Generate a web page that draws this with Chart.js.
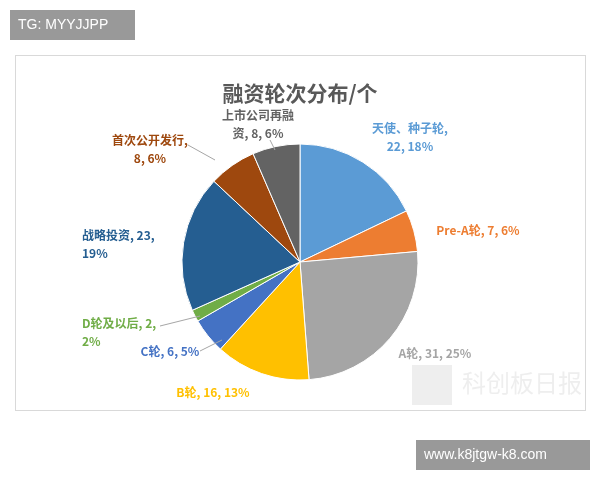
<!DOCTYPE html>
<html>
<head>
<meta charset="utf-8">
<script src="https://cdn.jsdelivr.net/npm/chart.js@4"></script>
<style>
  body { margin: 0; background: #fff; }
  #wrap { position: relative; width: 600px; height: 480px; }
</style>
</head>
<body>
<div id="wrap"><canvas id="pieChart" width="600" height="480"></canvas></div>
<script>
// 数据
const categories = ['天使、种子轮', 'Pre-A轮', 'A轮', 'B轮', 'C轮', 'D轮及以后', '战略投资', '首次公开发行', '上市公司再融资'];
const counts = [22, 7, 31, 16, 6, 2, 23, 8, 8];
const percents = ['18%', '6%', '25%', '13%', '5%', '2%', '19%', '6%', '6%'];
const colors = ['#5b9bd5', '#ed7d31', '#a5a5a5', '#ffc000', '#4472c4', '#70ad47', '#255e91', '#9e480e', '#636363'];

// 标签位置 (文字行, 坐标, 引导线)
const labelLayout = [
  { lines: ['天使、种子轮,', '22, 18%'], x: 410, y: 128, align: 'center' },
  { lines: ['Pre-A轮, 7, 6%'], x: 478, y: 230, align: 'center' },
  { lines: ['A轮, 31, 25%'], x: 435, y: 353, align: 'center' },
  { lines: ['B轮, 16, 13%'], x: 213, y: 392, align: 'center' },
  { lines: ['C轮, 6, 5%'], x: 170, y: 351, align: 'center', lead: [200, 351, 222, 340] },
  { lines: ['D轮及以后, 2,', '2%'], x: 82, y: 323, align: 'left', lead: [160, 326, 200, 316] },
  { lines: ['战略投资, 23,', '19%'], x: 82, y: 235, align: 'left' },
  { lines: ['首次公开发行,', '8, 6%'], x: 150, y: 140, align: 'center', lead: [188, 145, 215, 160] },
  { lines: ['上市公司再融', '资, 8, 6%'], x: 258, y: 115, align: 'center', lead: [270, 140, 275, 150] }
];

const decor = {
  id: 'decor',
  beforeDraw(chart) {
    const c = chart.ctx;
    c.save();
    c.fillStyle = '#fff';
    c.fillRect(0, 0, 600, 480);
    c.strokeStyle = '#d9d9d9';
    c.lineWidth = 1;
    c.strokeRect(15.5, 55.5, 570, 355);
    // 水印
    c.fillStyle = 'rgba(200,200,200,0.3)';
    c.fillRect(412, 365, 40, 40);
    c.font = '24px "Noto Sans CJK SC"';
    c.fillText('科创板日报', 462, 392);
    c.restore();
  },
  afterDraw(chart) {
    const c = chart.ctx;
    c.save();
    c.textBaseline = 'middle';
    // 标题
    c.fillStyle = '#595959';
    c.font = 'bold 21px "Noto Sans CJK SC"';
    c.textAlign = 'center';
    c.fillText('融资轮次分布/个', 300, 93);
    // 数据标签
    c.font = 'bold 12px "Noto Sans CJK SC"';
    labelLayout.forEach((l, i) => {
      c.fillStyle = colors[i];
      c.textAlign = l.align;
      l.lines.forEach((t, j) => c.fillText(t, l.x, l.y + j * 18));
      if (l.lead) {
        c.strokeStyle = '#a6a6a6';
        c.lineWidth = 1;
        c.beginPath();
        c.moveTo(l.lead[0], l.lead[1]);
        c.lineTo(l.lead[2], l.lead[3]);
        c.stroke();
      }
    });
    // 角标
    c.fillStyle = '#999';
    c.fillRect(10, 10, 125, 30);
    c.fillRect(416, 440, 174, 30);
    c.fillStyle = '#fff';
    c.font = '14px "Liberation Sans"';
    c.textAlign = 'left';
    c.fillText('TG: MYYJJPP', 18, 25);
    c.fillText('www.k8jtgw-k8.com', 424, 455);
    c.restore();
  }
};

new Chart(document.getElementById('pieChart'), {
  type: 'pie',
  data: {
    labels: categories,
    datasets: [{
      data: counts,
      backgroundColor: colors,
      borderColor: '#fff',
      borderWidth: 1,
      radius: 118
    }]
  },
  options: {
    responsive: false,
    animation: false,
    layout: { padding: { top: 44 } },
    plugins: { legend: { display: false }, tooltip: { enabled: false } }
  },
  plugins: [decor]
});
</script>
</body>
</html>
